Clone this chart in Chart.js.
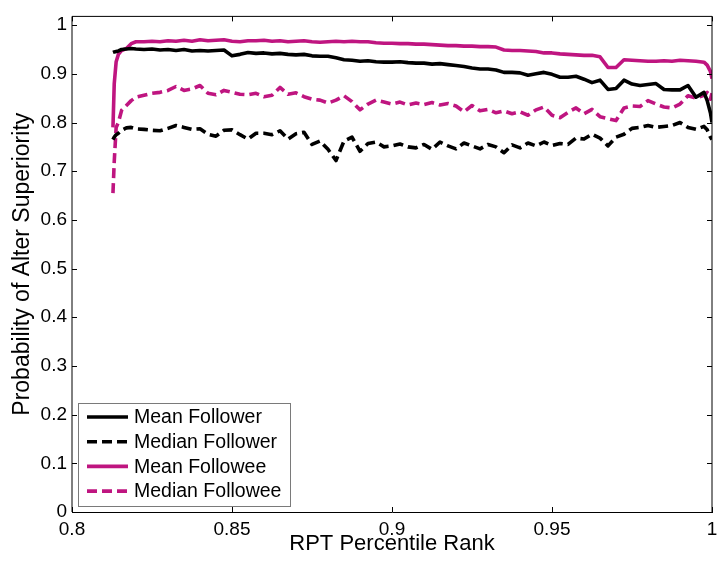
<!DOCTYPE html>
<html>
<head>
<meta charset="utf-8">
<script src="https://cdn.jsdelivr.net/npm/chart.js@4/dist/chart.umd.min.js"></script>
<style>
  html, body { margin: 0; padding: 0; background: #fff; }
  #wrap { width: 727px; height: 565px; }
</style>
</head>
<body>
<div id="wrap"><canvas id="rpt-chart" width="727" height="565"></canvas></div>
<script>
"use strict";

// percentile ranks (x) shared by every series
const ranks = [
  0.8128, 0.8132, 0.8138, 0.8145, 0.8155, 0.817, 0.8185,
  0.820, 0.8225, 0.825, 0.8275, 0.830, 0.8325, 0.835, 0.8375, 0.840, 0.8425,
  0.845, 0.8475, 0.850, 0.8525, 0.855, 0.8575, 0.860, 0.8625, 0.865, 0.8675,
  0.870, 0.8725, 0.875, 0.8775, 0.880, 0.8825, 0.885, 0.8875, 0.890, 0.8925,
  0.895, 0.8975, 0.900, 0.9025, 0.905, 0.9075, 0.910, 0.9125, 0.915, 0.9175,
  0.920, 0.9225, 0.925, 0.9275, 0.930, 0.9325, 0.935, 0.9375, 0.940, 0.9425,
  0.945, 0.9475, 0.950, 0.9525, 0.955, 0.9575, 0.960, 0.9625, 0.965, 0.9675,
  0.970, 0.9725, 0.975, 0.9775, 0.980, 0.9825, 0.985, 0.9875, 0.990, 0.9925,
  0.995, 0.9975, 0.9985, 0.9995, 1.0
];

const meanFollower = [
  0.944, 0.945, 0.946, 0.947, 0.950, 0.951, 0.952,
  0.951, 0.950, 0.951, 0.949, 0.950, 0.948, 0.950, 0.947, 0.948, 0.947,
  0.948, 0.949, 0.937, 0.940, 0.944, 0.942, 0.943, 0.941, 0.942, 0.940,
  0.939, 0.940, 0.937, 0.936, 0.936, 0.933, 0.929, 0.928, 0.926, 0.927,
  0.925, 0.924, 0.924, 0.925, 0.923, 0.922, 0.922, 0.920, 0.921, 0.919,
  0.917, 0.915, 0.912, 0.910, 0.910, 0.908, 0.903, 0.903, 0.902, 0.897,
  0.900, 0.903, 0.899, 0.893, 0.893, 0.895, 0.889, 0.882, 0.887, 0.868,
  0.870, 0.887, 0.879, 0.876, 0.878, 0.880, 0.868, 0.867, 0.867, 0.876,
  0.852, 0.862, 0.845, 0.820, 0.800
];

const medianFollower = [
  0.765, 0.770, 0.775, 0.778, 0.784, 0.789, 0.790,
  0.787, 0.786, 0.784, 0.783, 0.788, 0.794, 0.790, 0.786, 0.787, 0.776,
  0.772, 0.784, 0.785, 0.775, 0.766, 0.778, 0.778, 0.775, 0.783, 0.766,
  0.777, 0.780, 0.755, 0.762, 0.745, 0.722, 0.762, 0.770, 0.741, 0.757,
  0.760, 0.750, 0.752, 0.756, 0.750, 0.748, 0.755, 0.745, 0.760, 0.752,
  0.746, 0.758, 0.752, 0.746, 0.755, 0.750, 0.738, 0.754, 0.748, 0.758,
  0.752, 0.760, 0.753, 0.757, 0.755, 0.768, 0.766, 0.776, 0.768, 0.752,
  0.770, 0.776, 0.788, 0.790, 0.794, 0.790, 0.792, 0.794, 0.800, 0.790,
  0.786, 0.792, 0.785, 0.770, 0.765
];

const meanFollowee = [
  0.790, 0.880, 0.925, 0.940, 0.948, 0.952, 0.962,
  0.966, 0.966, 0.967, 0.966, 0.968, 0.967, 0.969, 0.967, 0.970, 0.968,
  0.969, 0.970, 0.967, 0.966, 0.968, 0.968, 0.969, 0.967, 0.968, 0.966,
  0.967, 0.968, 0.966, 0.965, 0.966, 0.967, 0.966, 0.967, 0.966, 0.966,
  0.964, 0.963, 0.963, 0.962, 0.962, 0.961, 0.961, 0.960, 0.959, 0.958,
  0.958, 0.957, 0.957, 0.956, 0.956, 0.955, 0.949, 0.948, 0.948, 0.947,
  0.946, 0.943, 0.943, 0.941, 0.940, 0.939, 0.938, 0.938, 0.935, 0.913,
  0.913, 0.929, 0.928, 0.927, 0.926, 0.926, 0.927, 0.926, 0.928, 0.927,
  0.926, 0.924, 0.918, 0.905, 0.890
];

const medianFollowee = [
  0.655, 0.720, 0.790, 0.800, 0.825, 0.835, 0.845,
  0.852, 0.856, 0.860, 0.862, 0.866, 0.874, 0.866, 0.869, 0.876, 0.860,
  0.857, 0.866, 0.862, 0.858, 0.857, 0.860, 0.853, 0.856, 0.872, 0.858,
  0.861, 0.853, 0.848, 0.846, 0.840, 0.846, 0.855, 0.843, 0.826, 0.838,
  0.846, 0.842, 0.838, 0.842, 0.836, 0.840, 0.837, 0.841, 0.836, 0.839,
  0.834, 0.822, 0.835, 0.824, 0.827, 0.820, 0.824, 0.818, 0.822, 0.815,
  0.826, 0.832, 0.815, 0.810, 0.821, 0.830, 0.818, 0.827, 0.812, 0.808,
  0.804, 0.830, 0.834, 0.833, 0.845, 0.838, 0.832, 0.830, 0.838, 0.855,
  0.850, 0.856, 0.862, 0.848, 0.860
];

const seriesNames = ["Mean Follower", "Median Follower", "Mean Followee", "Median Followee"];
const xTicks = [0.8, 0.85, 0.9, 0.95, 1];
const yTicks = [0, 0.1, 0.2, 0.3, 0.4, 0.5, 0.6, 0.7, 0.8, 0.9, 1];

const BLACK = "#000000";
const MAGENTA = "#bf1580";
const DASH = [10, 5];
const LINE_W = 3.6;
const FONT = "'Liberation Sans', Arial, Helvetica, sans-serif";

function toPoints(values) {
  const pts = [];
  for (let i = 0; i < ranks.length; i++) {
    pts.push({ x: ranks[i], y: values[i] });
  }
  return pts;
}

function fmt(v) {
  return String(Number(v.toFixed(2)));
}

// inward tick marks + box around the axes, MATLAB style
const axesBox = {
  id: "axesBox",
  afterDatasetsDraw(chart) {
    const { ctx, chartArea: a, scales } = chart;
    const len = 5;
    ctx.save();
    ctx.lineWidth = 1;
    ctx.strokeStyle = BLACK;
    ctx.beginPath();
    xTicks.forEach(v => {
      const px = Math.round(scales.x.getPixelForValue(v)) + 0.5;
      ctx.moveTo(px, a.bottom); ctx.lineTo(px, a.bottom - len);
      ctx.moveTo(px, a.top); ctx.lineTo(px, a.top + len);
    });
    yTicks.forEach(v => {
      const py = Math.round(scales.y.getPixelForValue(v)) + 0.5;
      ctx.moveTo(a.left, py); ctx.lineTo(a.left + len, py);
      ctx.moveTo(a.right, py); ctx.lineTo(a.right - len, py);
    });
    ctx.stroke();

    // box edges; left, top and right fall between pixels and look grey
    ctx.strokeStyle = BLACK;
    ctx.beginPath();
    ctx.moveTo(a.left, a.bottom);
    ctx.lineTo(a.left, a.top);
    ctx.lineTo(a.right, a.top);
    ctx.lineTo(a.right, a.bottom);
    ctx.stroke();
    ctx.beginPath();
    ctx.moveTo(a.left, a.bottom + 0.5);
    ctx.lineTo(a.right + 1, a.bottom + 0.5);
    ctx.stroke();
    ctx.restore();
  }
};

// legend box in the lower left corner of the axes
const boxLegend = {
  id: "boxLegend",
  afterDraw(chart) {
    const { ctx, chartArea: a } = chart;
    const left = a.left + 6, top = 403, w = 212, h = 103;
    ctx.save();
    ctx.fillStyle = "#fff";
    ctx.fillRect(left, top, w, h);
    ctx.strokeStyle = "#7a7a7a";
    ctx.lineWidth = 1;
    ctx.strokeRect(left + 0.5, top + 0.5, w, h);
    ctx.font = "19.5px " + FONT;
    ctx.textBaseline = "middle";
    chart.data.datasets.forEach((ds, i) => {
      const y = top + 14 + i * 24.7;
      ctx.strokeStyle = ds.borderColor;
      ctx.lineWidth = ds.borderWidth;
      ctx.setLineDash(ds.borderDash || []);
      ctx.beginPath();
      ctx.moveTo(left + 9, y);
      ctx.lineTo(left + 50, y);
      ctx.stroke();
      ctx.setLineDash([]);
      ctx.fillStyle = BLACK;
      ctx.fillText(ds.label, left + 56, y + 1);
    });
    ctx.restore();
  }
};

const ctx = document.getElementById("rpt-chart");

new Chart(ctx, {
  type: "line",
  data: {
    datasets: [
      { label: seriesNames[0], data: toPoints(meanFollower), borderColor: BLACK, borderWidth: LINE_W },
      { label: seriesNames[1], data: toPoints(medianFollower), borderColor: BLACK, borderWidth: LINE_W, borderDash: DASH },
      { label: seriesNames[2], data: toPoints(meanFollowee), borderColor: MAGENTA, borderWidth: LINE_W },
      { label: seriesNames[3], data: toPoints(medianFollowee), borderColor: MAGENTA, borderWidth: LINE_W, borderDash: DASH },
    ],
  },
  options: {
    responsive: false,
    animation: false,
    events: [],
    elements: {
      point: { radius: 0 },
      line: { tension: 0, fill: false, borderCapStyle: "butt", borderJoinStyle: "round" },
    },
    layout: { padding: { top: 7, right: 15, left: 0, bottom: 0 } },
    plugins: {
      legend: { display: false },
      tooltip: { enabled: false },
    },
    scales: {
      x: {
        type: "linear",
        min: 0.8,
        max: 1,
        afterFit(scale) { scale.height = 53; },
        afterBuildTicks(scale) { scale.ticks = xTicks.map(v => ({ value: v })); },
        grid: { display: false, drawTicks: false },
        border: { display: false },
        ticks: {
          color: BLACK,
          font: { family: FONT, size: 19 },
          padding: 6,
          maxRotation: 0,
          callback: v => fmt(v),
        },
        title: {
          display: true,
          text: "RPT Percentile Rank",
          color: BLACK,
          font: { family: FONT, size: 22 },
          padding: { top: 0, bottom: 8 },
        },
      },
      y: {
        type: "linear",
        min: 0,
        max: 1.018,
        afterFit(scale) { scale.width = 72; },
        afterBuildTicks(scale) { scale.ticks = yTicks.map(v => ({ value: v })); },
        grid: { display: false, drawTicks: false },
        border: { display: false },
        ticks: {
          color: BLACK,
          font: { family: FONT, size: 19 },
          padding: 5,
          callback: v => fmt(v),
        },
        title: {
          display: true,
          text: "Probability of Alter Superiority",
          color: BLACK,
          font: { family: FONT, size: 23 },
          padding: { top: 9, bottom: 0 },
        },
      },
    },
  },
  plugins: [axesBox, boxLegend],
});
</script>
</body>
</html>
